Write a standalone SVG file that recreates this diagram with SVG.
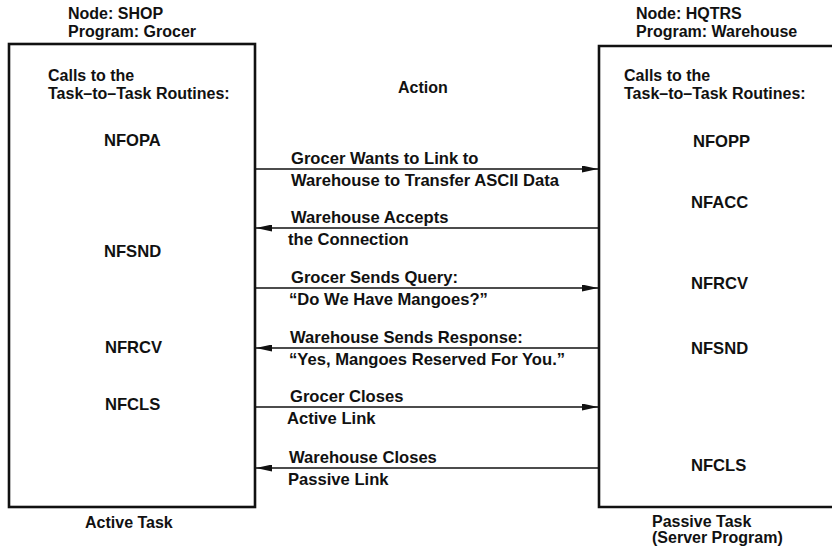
<svg xmlns="http://www.w3.org/2000/svg" width="832" height="546" viewBox="0 0 832 546">
<style>
text{font-family:"Liberation Sans",Arial,Helvetica,sans-serif;font-weight:bold;font-size:16px;fill:#111}
.lbl{font-size:16.6px}
.box{fill:none;stroke:#111;stroke-width:2.6}
.conn{stroke:#111;stroke-width:1.3;fill:none}
</style>
<defs>
<marker id="ah" viewBox="0 0 16 7" refX="16" refY="3.5" markerWidth="16" markerHeight="7" markerUnits="userSpaceOnUse" orient="auto">
<path d="M0,0 L16,3.5 L0,7 Z" fill="#111"/>
</marker>
</defs>
<rect width="832" height="546" fill="#fff"/>
<g id="active-task">
<text x="68" y="19">Node: SHOP</text>
<text x="68" y="37">Program: Grocer</text>
<rect class="box" x="9" y="44" width="246" height="463"/>
<text x="48" y="81">Calls to the</text>
<text x="48" y="99">Task–to–Task Routines:</text>
<text class="lbl" x="104" y="146">NFOPA</text>
<text class="lbl" x="104" y="257">NFSND</text>
<text class="lbl" x="105" y="353">NFRCV</text>
<text class="lbl" x="105" y="410">NFCLS</text>
<text x="85" y="528">Active Task</text>
</g>
<g id="passive-task">
<text x="636" y="19">Node: HQTRS</text>
<text x="636" y="37">Program: Warehouse</text>
<path class="box" d="M832,46 H599 V507 H832"/>
<text x="624" y="81">Calls to the</text>
<text x="624" y="99">Task–to–Task Routines:</text>
<text class="lbl" x="693" y="147">NFOPP</text>
<text class="lbl" x="691" y="208">NFACC</text>
<text class="lbl" x="691" y="289">NFRCV</text>
<text class="lbl" x="691" y="354">NFSND</text>
<text class="lbl" x="691" y="471">NFCLS</text>
<text x="652" y="527">Passive Task</text>
<text x="652" y="543">(Server Program)</text>
</g>
<g id="action-header">
<text x="398" y="93">Action</text>
</g>
<g id="connectors">
<line class="conn" x1="256" y1="169" x2="598" y2="169" marker-end="url(#ah)"/>
<line class="conn" x1="598" y1="228" x2="256" y2="228" marker-end="url(#ah)"/>
<line class="conn" x1="256" y1="288" x2="598" y2="288" marker-end="url(#ah)"/>
<line class="conn" x1="598" y1="348" x2="256" y2="348" marker-end="url(#ah)"/>
<line class="conn" x1="256" y1="407" x2="598" y2="407" marker-end="url(#ah)"/>
<line class="conn" x1="598" y1="468" x2="256" y2="468" marker-end="url(#ah)"/>
</g>
<g id="labels">
<text class="lbl" x="291" y="164">Grocer Wants to Link to</text>
<text class="lbl" x="291" y="186">Warehouse to Transfer ASCII Data</text>
<text class="lbl" x="291" y="223">Warehouse Accepts</text>
<text class="lbl" x="288" y="245">the Connection</text>
<text class="lbl" x="291" y="283">Grocer Sends Query:</text>
<text class="lbl" x="289" y="305">“Do We Have Mangoes?”</text>
<text class="lbl" x="290" y="343">Warehouse Sends Response:</text>
<text class="lbl" x="289" y="365">“Yes, Mangoes Reserved For You.”</text>
<text class="lbl" x="290" y="402">Grocer Closes</text>
<text class="lbl" x="287" y="424">Active Link</text>
<text class="lbl" x="289" y="463">Warehouse Closes</text>
<text class="lbl" x="288" y="485">Passive Link</text>
</g>
</svg>
